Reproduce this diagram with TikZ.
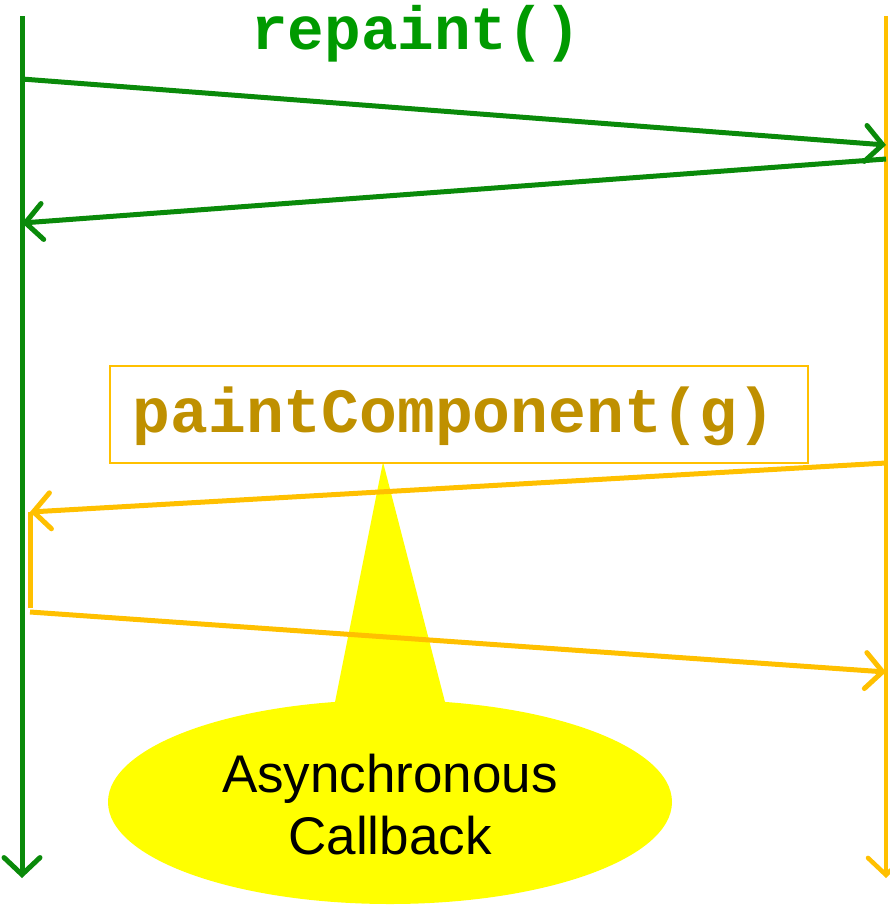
\documentclass[tikz,border=0pt]{standalone}
\usepackage{fontspec}
\setmainfont{Liberation Sans}
\setmonofont{Liberation Mono}
\usetikzlibrary{arrows.meta}
\definecolor{lgreen}{HTML}{0A8A0A}
\definecolor{tgreen}{HTML}{009A00}
\definecolor{lorange}{HTML}{FFC000}
\definecolor{tgold}{HTML}{BF9000}
\definecolor{cyellow}{HTML}{FFFF00}
\begin{document}
\begin{tikzpicture}[x=1pt,y=-1pt,
  barb/.style={-{Straight Barb[length=17pt,width=36pt,line cap=round]}},
  gline/.style={draw=lgreen,line width=5pt},
  oline/.style={draw=lorange,line width=5pt}]
\useasboundingbox (0,0) rectangle (890,908);
% lifelines
\coordinate (gtop) at (22,16);
\coordinate (gbot) at (22,878);
\coordinate (otop) at (886,16);
\coordinate (obot) at (886,878);
\draw[oline,line width=4.5pt,barb] (otop) -- (obot);
\draw[gline,barb] (gtop) -- (gbot);
% repaint
\node[font=\ttfamily\bfseries\fontsize{61}{61}\selectfont,text=tgreen,anchor=base,inner sep=0] (rp) at (416,49) {repaint()};
\coordinate (a1s) at (22,79);
\coordinate (a1e) at (886,145);
\coordinate (a2s) at (886,159);
\coordinate (a2e) at (22,223);
\draw[gline,barb] (a1s) -- (a1e);
\draw[gline,barb] (a2s) -- (a2e);
% callout
\fill[cyellow] (383,462) -- (445,702) -- (335,702) -- cycle;
\fill[cyellow] (390,802) ellipse [x radius=282, y radius=102];
\node[font=\fontsize{53}{62}\selectfont,align=center,inner sep=0] (cb) at (390,805) {Asynchronous\\Callback};
% paintComponent box
\node[draw=lorange,line width=2pt,minimum width=698pt,minimum height=97pt,inner sep=0] (pc) at (459,414.5) {};
\node[font=\ttfamily\bfseries\fontsize{63}{63}\selectfont,text=tgold,anchor=base,inner sep=0] (pct) at (454,432) {paintComponent(g)};
% orange arrows
\coordinate (b1s) at (886,463);
\coordinate (b1e) at (30,512);
\coordinate (b2s) at (30,612);
\coordinate (b2e) at (886,672);
\coordinate (v1) at (30,512);
\coordinate (v2) at (30,608);
\draw[oline,barb] (b1s) -- (b1e);
\draw[oline] (v1) -- (v2);
\draw[oline,barb] (b2s) -- (b2e);
\end{tikzpicture}
\end{document}
